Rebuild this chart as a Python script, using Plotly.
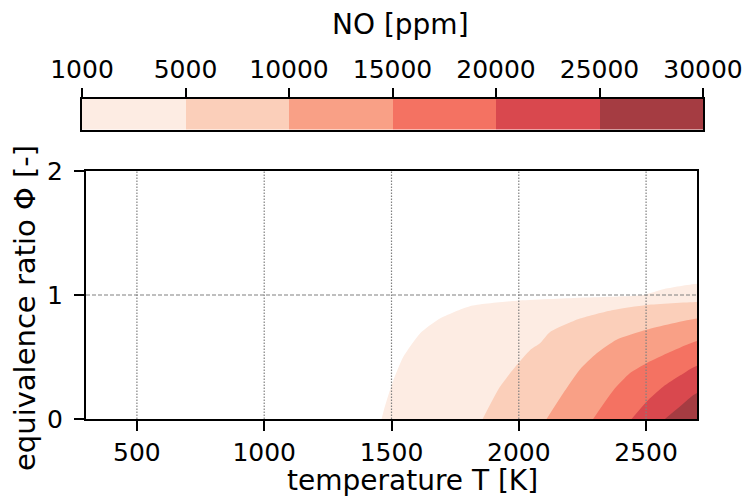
import plotly.graph_objects as go

# contour levels (ppm) and fill colours of each band
levels = [1000, 5000, 10000, 15000, 20000, 25000, 30000]
band_colors = ["#fdece3", "#fbcfba", "#f9a086", "#f47262", "#d9484e", "#a53c42"]

# boundary of each band (lower level): temperature [K], phi [-]
T_1000 = [1461, 1474, 1507, 1546, 1612, 1690, 1808, 1992, 2240, 2489, 2567, 2700]
P_1000 = [0.0, 0.10, 0.31, 0.50, 0.69, 0.81, 0.91, 0.954, 0.978, 1.0, 1.046, 1.09]
T_5000 = [1858, 1926, 1992, 2044, 2083, 2122, 2240, 2371, 2502, 2700]
P_5000 = [0.0, 0.26, 0.435, 0.555, 0.61, 0.70, 0.81, 0.88, 0.92, 0.944]
T_10000 = [2109, 2175, 2240, 2306, 2384, 2502, 2700]
P_10000 = [0.0, 0.21, 0.40, 0.53, 0.64, 0.72, 0.81]
T_15000 = [2292, 2371, 2437, 2502, 2594, 2700]
P_15000 = [0.0, 0.23, 0.37, 0.45, 0.54, 0.63]
T_20000 = [2443, 2502, 2567, 2633, 2700]
P_20000 = [0.0, 0.14, 0.26, 0.35, 0.43]
T_25000 = [2574, 2633, 2700]
P_25000 = [0.0, 0.10, 0.21]

boundaries = [(T_1000, P_1000), (T_5000, P_5000), (T_10000, P_10000),
              (T_15000, P_15000), (T_20000, P_20000), (T_25000, P_25000)]

x_range = [300, 2700]
y_range = [0, 2]
x_ticks = [500, 1000, 1500, 2000, 2500]
y_ticks = [0, 1, 2]

x_title = "temperature T [K]"
y_title = "equivalence ratio Φ [-]"
cbar_title = "NO [ppm]"

FONT = "DejaVu Sans"
FS = 25

fig = go.Figure()

# filled bands, lightest first
for (T, P), col in zip(boundaries, band_colors):
    xs = list(T) + [x_range[1] + 100, x_range[1] + 100, T[0]]
    ys = list(P) + [P[-1], y_range[0] - 0.3, y_range[0] - 0.3]
    fig.add_trace(go.Scatter(x=xs, y=ys, mode="lines", fill="toself",
                             fillcolor=col, line=dict(width=0, shape="spline", smoothing=0.6),
                             hoverinfo="skip", showlegend=False))

# colour bar as a separate axis
n = len(band_colors)
fig.add_trace(go.Bar(x=[1] * n, base=list(range(n)), y=[0] * n, orientation="h",
                     width=1, marker=dict(color=band_colors, line=dict(width=0)),
                     xaxis="x2", yaxis="y2", showlegend=False, hoverinfo="skip"))

# grid lines drawn above the fills
for xt in x_ticks:
    fig.add_shape(type="line", x0=xt, x1=xt, y0=y_range[0], y1=y_range[1],
                  xref="x", yref="y", layer="above",
                  line=dict(color="#808080", width=1.2, dash="1.5px,1.5px"))
fig.add_shape(type="line", x0=x_range[0], x1=x_range[1], y0=1, y1=1,
              xref="x", yref="y", layer="above",
              line=dict(color="#808080", width=1.2, dash="4px,2px"))

L, R, T_, B = 82, 45, 91, 81
H = 500 - T_ - B
W = 748 - L - R


def px_x(p):
    return (p - L) / W


def px_y(p):
    return (500 - B - p) / H


# axis titles as annotations (placed where the reference has them)
fig.add_annotation(text=x_title, xref="paper", yref="paper", x=px_x(412), y=px_y(499),
                   xanchor="center", yanchor="bottom", showarrow=False,
                   font=dict(size=28))
fig.add_annotation(text=cbar_title, xref="paper", yref="paper", x=px_x(400), y=px_y(24.5),
                   xanchor="center", yanchor="middle", showarrow=False,
                   font=dict(size=28))
fig.add_annotation(text=y_title, xref="paper", yref="paper", x=px_x(25), y=px_y(308),
                   xanchor="center", yanchor="middle", showarrow=False, textangle=-90,
                   font=dict(size=29))

fig.update_layout(
    width=748, height=500,
    margin=dict(l=L, r=R, t=T_, b=B, pad=0),
    paper_bgcolor="white", plot_bgcolor="white",
    font=dict(family=FONT, size=FS, color="black"),
    showlegend=False, bargap=0,
    xaxis=dict(domain=[px_x(86), px_x(697)], range=x_range,
               tickvals=x_ticks, ticks="outside", ticklen=10, tickwidth=2,
               tickcolor="black", showline=True, linewidth=2, linecolor="black",
               mirror=True, showgrid=False, zeroline=False, automargin=False,
               ticklabelstandoff=0),
    yaxis=dict(domain=[0, px_y(171)], range=y_range, tickvals=y_ticks,
               ticks="outside", ticklen=10, tickwidth=2, tickcolor="black",
               showline=True, linewidth=2, linecolor="black", mirror=True,
               showgrid=False, zeroline=False, automargin=False,
               ticklabelstandoff=6),
    xaxis2=dict(domain=[0, 1], anchor="y2", range=[0, n], side="top",
                tickvals=list(range(n + 1)), ticktext=[str(v) for v in levels],
                ticks="outside", ticklen=9, tickwidth=2, tickcolor="black",
                showline=True, linewidth=2, linecolor="black", mirror=True,
                showgrid=False, zeroline=False, automargin=False),
    yaxis2=dict(domain=[px_y(129.5), px_y(99)], anchor="x2",
                range=[-0.5, 0.5], showticklabels=False, ticks="",
                showline=True, linewidth=2, linecolor="black", mirror=True,
                showgrid=False, zeroline=False, automargin=False),
)

fig.write_html("out.html", config={"displayModeBar": False},
               post_script="document.body.style.margin='0';document.body.style.overflow='hidden';")
